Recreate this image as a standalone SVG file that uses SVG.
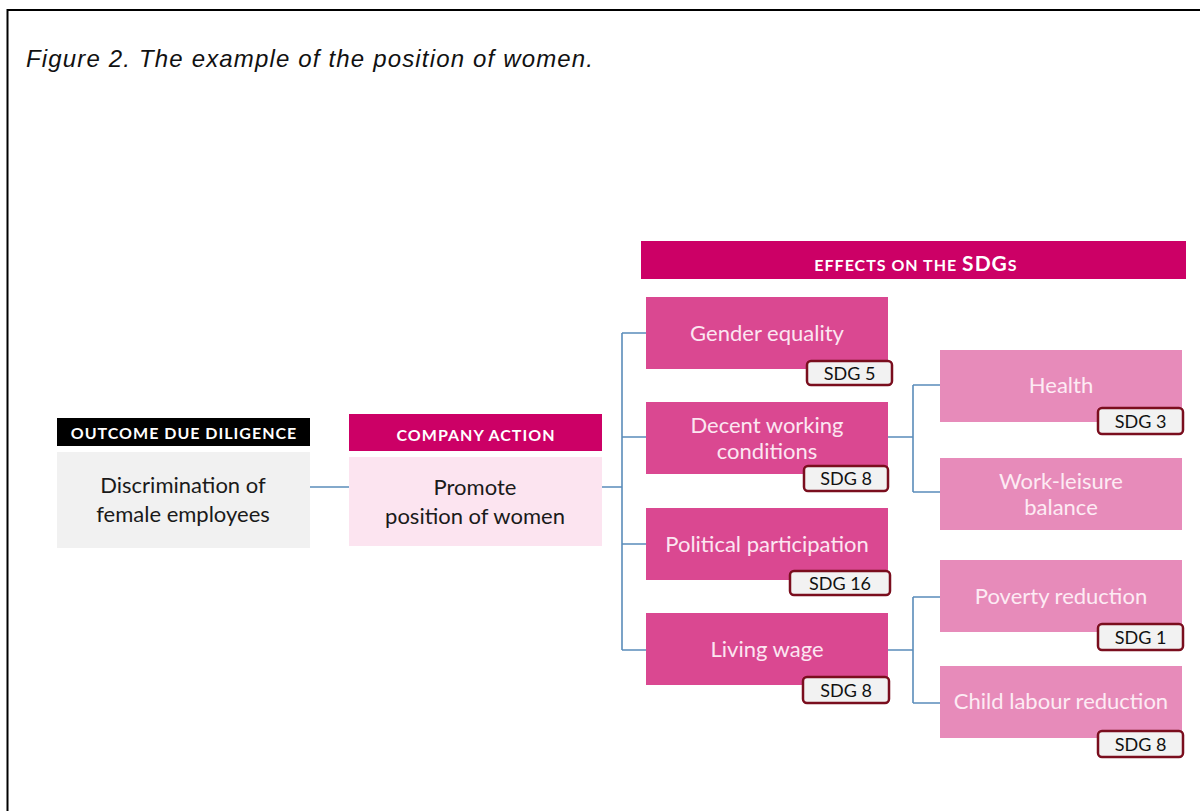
<svg xmlns="http://www.w3.org/2000/svg" width="1200" height="811" viewBox="0 0 1200 811">
<style>
.t{font-family:Lato,"Open Sans","DejaVu Sans",sans-serif;text-anchor:middle}
.hd{font-size:16px;font-weight:bold;fill:#fff;letter-spacing:1px}
.grey{font-size:22px;fill:#1a1a1a}
.dk{fill:#DA4891}
.lt{fill:#E78BBA}
.dkt{font-size:22px;fill:#FCE6F1}
.ltt{font-size:22px;fill:#FDEBF4}
.badge rect{fill:#F2F2F2;stroke:#7A0E1E;stroke-width:2.5}
.badge text{font-size:18px;fill:#111}
.conn{fill:none;stroke:#5A8CBA;stroke-width:1.6}
</style>
<rect x="0" y="0" width="1200" height="811" fill="#fff"/>
<path d="M7.5 811 V10 H1200" fill="none" stroke="#000" stroke-width="2"/>
<text x="26" y="67" font-family="'Liberation Sans',Arial,sans-serif" font-style="italic" font-size="24" fill="#111" textLength="567" lengthAdjust="spacing">Figure 2. The example of the position of women.</text>

<g id="connectors">
<path class="conn" d="M310 487 H349"/>
<path class="conn" d="M602 487 H622 M622 333 V650 M622 333 H646 M622 437 H646 M622 544 H646 M622 650 H646"/>
<path class="conn" d="M888 437 H913 M913 385 V492 M913 385 H940 M913 492 H940"/>
<path class="conn" d="M888 650 H913 M913 597 V703 M913 597 H940 M913 703 H940"/>
</g>

<g id="outcome">
<rect x="57" y="418" width="253" height="28" fill="#000"/>
<text class="t hd" x="184" y="439">OUTCOME DUE DILIGENCE</text>
<rect x="57" y="452" width="253" height="96" fill="#F1F1F1"/>
<text class="t grey" x="183" y="493">Discrimination of</text>
<text class="t grey" x="183" y="522">female employees</text>
</g>

<g id="action">
<rect x="349" y="414" width="253" height="37" fill="#CC0066"/>
<text class="t hd" x="476" y="441">COMPANY ACTION</text>
<rect x="349" y="457" width="253" height="89" fill="#FCE4F0"/>
<text class="t grey" x="475" y="495">Promote</text>
<text class="t grey" x="475" y="524">position of women</text>
</g>

<g id="effects-header">
<rect x="641" y="241" width="545" height="38" fill="#CC0066"/>
<text class="t" x="916" y="271" fill="#fff" font-weight="bold" font-size="16" letter-spacing="1">EFFECTS ON THE <tspan font-size="21">SDG</tspan>S</text>
</g>

<g id="gender">
<rect class="dk" x="646" y="297" width="242" height="72"/>
<text class="t dkt" x="767" y="341">Gender equality</text>
<g class="badge"><rect x="807" y="361" width="85" height="24" rx="4"/><text class="t" x="849.5" y="380">SDG 5</text></g>
</g>

<g id="decent">
<rect class="dk" x="646" y="402" width="242" height="72"/>
<text class="t dkt" x="767" y="433">Decent working</text>
<text class="t dkt" x="767" y="459">conditions</text>
<g class="badge"><rect x="804" y="466" width="84" height="25" rx="4"/><text class="t" x="846" y="485">SDG 8</text></g>
</g>

<g id="political">
<rect class="dk" x="646" y="508" width="242" height="72"/>
<text class="t dkt" x="767" y="552">Political participation</text>
<g class="badge"><rect x="790" y="571" width="100" height="24" rx="4"/><text class="t" x="840" y="590">SDG 16</text></g>
</g>

<g id="living">
<rect class="dk" x="646" y="613" width="242" height="72"/>
<text class="t dkt" x="767" y="657">Living wage</text>
<g class="badge"><rect x="803" y="677" width="86" height="26" rx="4"/><text class="t" x="846" y="697">SDG 8</text></g>
</g>

<g id="health">
<rect class="lt" x="940" y="350" width="242" height="72"/>
<text class="t ltt" x="1061" y="393">Health</text>
<g class="badge"><rect x="1098" y="408" width="85" height="26" rx="4"/><text class="t" x="1140.5" y="428">SDG 3</text></g>
</g>

<g id="worklife">
<rect class="lt" x="940" y="458" width="242" height="72"/>
<text class="t ltt" x="1061" y="489">Work-leisure</text>
<text class="t ltt" x="1061" y="515">balance</text>
</g>

<g id="poverty">
<rect class="lt" x="940" y="560" width="242" height="72"/>
<text class="t ltt" x="1061" y="604">Poverty reduction</text>
<g class="badge"><rect x="1098" y="624" width="85" height="26" rx="4"/><text class="t" x="1140.5" y="644">SDG 1</text></g>
</g>

<g id="child">
<rect class="lt" x="940" y="666" width="242" height="72"/>
<text class="t ltt" x="1061" y="709">Child labour reduction</text>
<g class="badge"><rect x="1098" y="731" width="85" height="26" rx="4"/><text class="t" x="1140.5" y="751">SDG 8</text></g>
</g>
</svg>
